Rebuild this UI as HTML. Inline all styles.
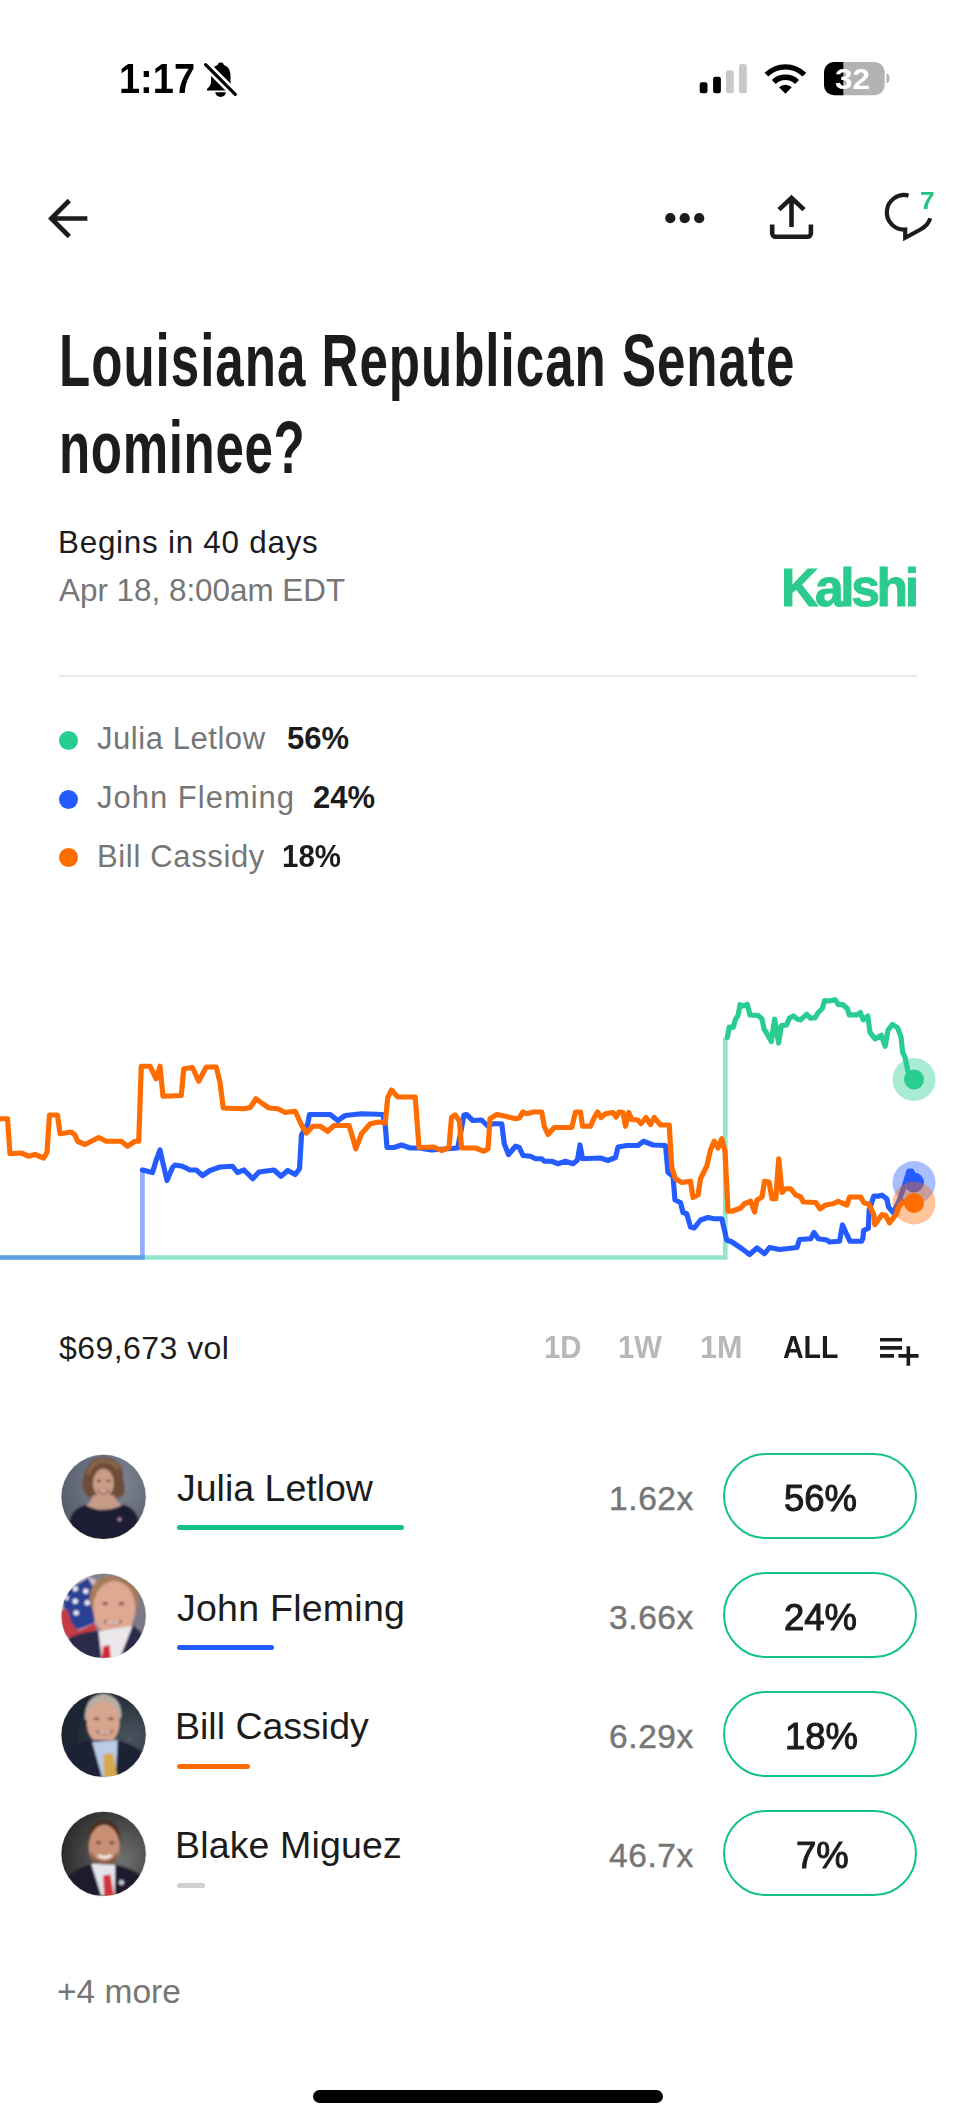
<!DOCTYPE html>
<html><head><meta charset="utf-8">
<style>
html,body{margin:0;padding:0;background:#fff;width:976px;height:2122px;overflow:hidden;position:relative;font-family:"Liberation Sans",sans-serif;}
.t{position:absolute;white-space:nowrap;line-height:1;transform-origin:0 0;}
.b{font-weight:700;}
.g{color:#767676;}
.d{color:#1c1c1c;}
svg{position:absolute;left:0;top:0;}
</style></head><body>

<!-- status bar -->
<!-- STATUS -->
<svg width="976" height="260" viewBox="0 0 976 260">
<g fill="#000">
<path d="M220.5 62.5c-1.6 0-2.7 1.1-2.8 2.4C212.6 66.6 211 71 211 76v6c0 3-2 5-4 7v1.6h27.5V89c-2-2-4-4-4-7v-6c0-5-1.6-9.4-6.7-11.1-.1-1.3-1.2-2.4-2.8-2.4z"/>
<path d="M215.3 92.3h10.6a5.3 4.6 0 0 1-10.6 0z"/>
</g>
<path d="M204.5 63.5L236.5 95.5" stroke="#fff" stroke-width="8.5"/>
<path d="M205.6 64.6L235.3 94.3" stroke="#000" stroke-width="3.2" stroke-linecap="round"/>
<rect x="699.7" y="82.3" width="7.8" height="10.9" rx="2.2" fill="#000"/>
<rect x="713.1" y="76.8" width="7.8" height="16.4" rx="2.2" fill="#000"/>
<rect x="726" y="70.3" width="7.8" height="22.9" rx="2.2" fill="#c9c9c9"/>
<rect x="739" y="64" width="7.8" height="29.2" rx="2.2" fill="#c9c9c9"/>
<path d="M764.54 72.84A29.5 29.5 0 0 1 806.26 72.84L802.51 76.59A24.2 24.2 0 0 0 768.29 76.59ZM771.75 80.05A19.3 19.3 0 0 1 799.05 80.05L795.02 84.08A13.6 13.6 0 0 0 775.78 84.08ZM785.40 93.70L779.04 87.34A9.0 9.0 0 0 1 791.76 87.34Z" fill="#000"/>
<path d="M834 62h40.7a10 10 0 0 1 10 10v13.3a10 10 0 0 1-10 10H834a10 10 0 0 1-10-10V72a10 10 0 0 1 10-10z" fill="#b3b3b3"/>
<path d="M834 62h9.3v33.3H834a10 10 0 0 1-10-10V72a10 10 0 0 1 10-10z" fill="#000"/>
<path d="M886.5 73.4a3.5 5 0 0 1 0 9.9z" fill="#b3b3b3"/>
<!-- nav -->
<g fill="none" stroke="#1c1c1c" stroke-width="4.6">
<path d="M87.4 218.5H50.5M69.3 200.5L51.3 218.5L69.3 236.5"/>
<path d="M791.5 227V198.5M779 209.7L791.5 197.9L804 209.7"/>
<path d="M772.2 224.6V233.3a3.5 3.5 0 0 0 3.5 3.5H807.4a3.5 3.5 0 0 0 3.5-3.5V224.6"/>
</g>
<g fill="#1c1c1c"><circle cx="670.3" cy="218.2" r="5.1"/><circle cx="684.7" cy="218.2" r="5.1"/><circle cx="699.2" cy="218.2" r="5.1"/></g>
<path d="M908.5 195.6A17.3 17.3 0 1 0 905.2 229.6V237.8L920.5 229.5Q928.5 225 930.2 218.3" fill="none" stroke="#1c1c1c" stroke-width="4.2" stroke-miterlimit="8"/>
</svg>
<div class="t b" style="left:834.5px;top:64.5px;font-size:29px;color:#fff;transform:scaleX(1.08)">32</div>
<div class="t b" style="left:920px;top:189.5px;font-size:23.5px;color:#22c283;transform:scaleX(1.12)">7</div>
<!-- /STATUS -->
<div class="t b" style="left:119px;top:58px;font-size:42px;color:#000;transform:scaleX(0.904)">1:17</div>

<!-- title -->
<div class="t b d" style="left:59px;top:324px;font-size:74px;letter-spacing:1.45px;transform:scaleX(0.69)">Louisiana Republican Senate</div>
<div class="t b d" style="left:59px;top:411px;font-size:74px;letter-spacing:0.95px;transform:scaleX(0.69)">nominee?</div>

<div class="t d" style="left:58px;top:527px;font-size:31.4px;letter-spacing:0.75px">Begins in 40 days</div>
<div class="t g" style="left:59px;top:575px;font-size:31.4px">Apr 18, 8:00am EDT</div>
<div class="t b" style="left:781px;top:561px;font-size:53px;color:#2bcb8f;letter-spacing:-3.5px;-webkit-text-stroke:1px #2bcb8f;transform:scaleX(0.975)">Kalshi</div>

<div style="position:absolute;left:59px;top:675px;width:858px;height:2px;background:#e9e9e9"></div>

<!-- legend -->
<div style="position:absolute;left:58.5px;top:730.5px;width:19px;height:19px;border-radius:50%;background:#29cd92"></div>
<div style="position:absolute;left:58.5px;top:789.5px;width:19px;height:19px;border-radius:50%;background:#255cff"></div>
<div style="position:absolute;left:58.5px;top:847.5px;width:19px;height:19px;border-radius:50%;background:#ff6c00"></div>
<div class="t g" style="left:97px;top:723px;font-size:31px;letter-spacing:0.55px">Julia Letlow</div>
<div class="t b d" style="left:287px;top:723px;font-size:31px">56%</div>
<div class="t g" style="left:97px;top:782px;font-size:31px;letter-spacing:1px">John Fleming</div>
<div class="t b d" style="left:313px;top:782px;font-size:31px">24%</div>
<div class="t g" style="left:97px;top:840.5px;font-size:31px;letter-spacing:0.65px">Bill Cassidy</div>
<div class="t b d" style="left:282px;top:840.5px;font-size:31px;transform:scaleX(0.95)">18%</div>

<!-- CHART -->
<svg style="left:0;top:0" width="976" height="1300" viewBox="0 0 976 1300">
<g fill="none" stroke-width="5.2">
<path d="M0 1257.5H725.3V1037.6" stroke="#29cd92" stroke-opacity="0.5" stroke-width="4.7"/>
<path d="M0 1257.5H142.4V1170" stroke="#255cff" stroke-opacity="0.5" stroke-width="4.7"/>
<g stroke-linejoin="round" stroke-linecap="round">
<path d="M727.3 1037.6 L729.3 1027 L733.3 1027.4 L735.3 1019.6 L738 1015.6 L740 1004.7 L743.3 1006 L747.3 1004.3 L750 1015 L758 1015.4 L762 1019 L764 1029 L766.6 1033 L771.3 1041.6 L774.6 1019 L778.6 1043 L781.3 1025.6 L786.6 1025 L789.3 1018.3 L793.3 1015.9 L797.2 1019 L800.6 1019.9 L806.6 1014.3 L810.6 1018.3 L815.2 1017.6 L817.9 1013 L822.5 1008.3 L824.5 1000.7 L829.2 1001 L835.1 999.7 L838.5 1004.7 L843 1004.7 L847.5 1008.7 L849.2 1014.9 L857 1014.9 L860.4 1012.6 L863.2 1019.9 L867.8 1016 L870 1032.3 L875.1 1038.9 L881.3 1035.2 L885.2 1046.4 L888 1030.1 L892.5 1024.4 L897.6 1027.8 L901 1036.8 L902.7 1052.6 L905 1057.1 L907.8 1070.7 L914 1079.4" stroke="#29cd92"/>
<path d="M142.4 1170 L152.5 1172.5 L156.25 1160 L160 1150 L162.5 1161.25 L167 1180.5 L172.5 1167.5 L175 1165 L182.5 1166.25 L190 1170 L196.25 1170 L202.5 1175.5 L210 1170.5 L220 1167 L232.5 1166.25 L237.5 1172.5 L244 1170 L252.75 1178.75 L259 1172 L274 1170 L281 1176.25 L287.75 1170.5 L295.25 1174.5 L299.5 1168.75 L301.5 1135 L307.75 1123.75 L309.5 1114.5 L330.25 1114.5 L337.75 1120.5 L345.25 1115.5 L361.5 1113.75 L382.75 1114.5 L385.25 1125 L387 1147.5 L394 1147.5 L401.5 1145 L410.25 1148 L419 1148 L431.5 1150 L457.75 1148 L464 1115 L466.5 1114.5 L472.75 1120.5 L481.5 1120 L488 1126.25 L493 1123.75 L501.75 1123.75 L504.25 1143.75 L508.5 1154.5 L515.5 1146.25 L519.25 1147.5 L523 1155.5 L530.5 1156.25 L535.5 1158.75 L541.75 1158.75 L544.25 1161.25 L551.75 1161.25 L558 1163.75 L565.5 1161.25 L573 1163.75 L577.5 1160 L580 1145 L582.5 1158.75 L600.5 1158 L608 1160.5 L615.5 1157.5 L618 1147 L626.75 1145.5 L638 1145.5 L643.5 1141.25 L653 1145 L665.5 1145.5 L668 1172.5 L673 1176.25 L675 1200 L680.5 1202.5 L683 1212.5 L686.75 1213.75 L690.5 1227 L694.25 1228 L700.5 1220 L708 1217.5 L714.25 1218.75 L721.75 1218.75 L726.75 1240 L732 1242 L742 1248.75 L749.5 1254.5 L757 1248 L764.5 1253.75 L769.5 1247.5 L779.5 1249.5 L797 1247.5 L799.5 1239.5 L810.75 1238.75 L814 1232.5 L818.25 1238.75 L827 1240 L829.5 1242 L839.5 1241.25 L842.5 1225 L847 1235 L850 1241.25 L861.5 1241.25 L862.8 1238.6 L863.7 1230.3 L868.3 1228.4 L869.2 1210 L873.8 1196.1 L878.4 1196.1 L882.1 1195.2 L886.8 1198.9 L888.6 1207.2 L893.2 1212.7 L898.7 1201.7 L903.4 1188.7 L906.1 1180.4 L908.9 1171.2 L911.7 1171.2 L914 1176.8 L914 1182.5" stroke="#255cff"/>
<path d="M0 1118.75 L7.5 1118.75 L10 1153.75 L21.25 1153 L28.75 1156.25 L35 1154.5 L43.75 1158 L47 1152.5 L49.5 1115 L57.5 1115 L60 1133.75 L71.25 1132 L75 1135 L77.5 1141.25 L85 1144.5 L98.75 1137.5 L106.25 1141.25 L121.25 1141.25 L127.5 1146.25 L135 1141.25 L138.75 1141.25 L141.25 1066.25 L150 1066.25 L156.25 1078.75 L160 1066.25 L163 1096.25 L181.25 1095.5 L183.75 1068.75 L192.5 1067.5 L198.75 1081.25 L206.25 1067 L216.25 1067 L220 1082.5 L223.25 1108 L244 1108.75 L250.25 1107.5 L256 1098.75 L262.75 1103.75 L269 1108 L277.75 1108.75 L285.25 1112.5 L295.25 1111.25 L301.5 1125 L306.5 1133 L312.75 1126.25 L320.25 1126.25 L327.75 1131.25 L334 1125.5 L349 1125.5 L352.75 1137.5 L355.75 1148.75 L361.5 1133.75 L370.25 1123.75 L379 1122 L385.25 1123 L387.75 1097.5 L391.5 1090 L397.75 1097 L415.25 1097 L419 1147.5 L434 1147 L441.5 1150.5 L449 1147.5 L451.5 1117.5 L455.25 1115 L459.5 1121.25 L461.5 1148 L475.25 1148 L484 1151.25 L488 1148.75 L490 1118.75 L496.75 1114.5 L505.5 1116.25 L515.5 1118.75 L519.25 1118 L523 1112 L526.75 1113.75 L533 1112 L541.75 1112 L544.25 1126.25 L548 1134.5 L554.25 1127.5 L571.75 1127.5 L575.5 1112 L580.5 1112 L582.5 1126.25 L590.5 1126.25 L594.25 1117.5 L597.5 1112 L601 1117.5 L605.5 1113.75 L613 1112.5 L616 1117 L619.25 1112 L623 1112.5 L625.5 1126.25 L628.75 1112.5 L631.75 1119.5 L638 1120 L641 1123.75 L646 1117.5 L650.5 1124.5 L654.25 1117.5 L660.5 1125 L669.25 1125 L671.75 1167.5 L675.5 1178.75 L681.75 1182.5 L690.5 1181.25 L693 1197.5 L698 1195 L700.5 1178.75 L706.75 1166.25 L710.5 1150 L714.25 1141.25 L718 1148 L721.75 1138.75 L725 1151.25 L728 1211.25 L732 1211.25 L740.75 1208 L744.5 1203.75 L750.75 1201.25 L754.5 1212 L757 1200 L762 1197 L764.5 1181.25 L769 1182 L772 1198.75 L775.75 1198.75 L778.75 1158.75 L782 1192.5 L785.75 1188.75 L790.75 1188.75 L795.75 1195 L800.75 1197 L803.25 1202 L815.75 1202.5 L820 1208.75 L825.75 1205 L833.25 1203.75 L838.25 1201.25 L842 1203 L847 1205 L849.5 1197 L860.75 1197 L863.7 1202.6 L869.2 1204.4 L873.8 1214.6 L874.8 1224.7 L882.1 1214.6 L885.8 1215.5 L889.5 1222.9 L896 1214.6 L899.7 1205.3 L903.4 1201.7 L914 1202.5" stroke="#ff6c00"/>
</g></g>
<circle cx="914" cy="1079.5" r="21.5" fill="#29cd92" fill-opacity="0.4"/>
<circle cx="914" cy="1079.5" r="10" fill="#29cd92"/>
<circle cx="914" cy="1182.5" r="21.5" fill="#255cff" fill-opacity="0.4"/>
<circle cx="914" cy="1182.5" r="10" fill="#255cff"/>
<circle cx="914" cy="1203" r="21.5" fill="#ff6c00" fill-opacity="0.4"/>
<circle cx="914" cy="1203" r="10" fill="#ff6c00"/>
</svg>
<!-- /CHART -->

<!-- volume row -->
<div class="t d" style="left:59px;top:1332px;font-size:32px;letter-spacing:0.45px">$69,673 vol</div>
<div class="t b" style="left:544px;top:1332px;font-size:31.5px;color:#b8b8b8;transform:scaleX(0.93)">1D</div>
<div class="t b" style="left:618px;top:1332px;font-size:31.5px;color:#b8b8b8;transform:scaleX(0.93)">1W</div>
<div class="t b" style="left:700px;top:1332px;font-size:31.5px;color:#b8b8b8;transform:scaleX(0.97)">1M</div>
<div class="t b d" style="left:783px;top:1332px;font-size:31.5px;transform:scaleX(0.905)">ALL</div>
<svg style="left:878px;top:1335px" width="44" height="34" viewBox="0 0 44 34">
<path d="M2 4.8H24.1M2 12.9H24.1M2 20.9H16M20.4 20.9H40.6M30.35 11.2V30.7" stroke="#1c1c1c" stroke-width="3.6" fill="none"/>
</svg>

<!-- rows -->
<!-- AVATARS -->
<svg style="left:56px;top:1450px" width="94" height="94" viewBox="0 0 976 976">
<defs><clipPath id="c0"><circle cx="494" cy="487" r="438"/></clipPath><filter id="f0" x="-10%" y="-10%" width="120%" height="120%"><feGaussianBlur stdDeviation="9"/></filter><radialGradient id="g0" cx="0.62" cy="0.35" r="0.7"><stop offset="0" stop-color="#828896"/><stop offset="1" stop-color="#4f5666"/></radialGradient></defs>
<circle cx="494" cy="487" r="446" fill="#ececec"/>
<g clip-path="url(#c0)"><g filter="url(#f0)">
<rect x="0" y="0" width="976" height="976" fill="url(#g0)"/>
<path d="M290 430 Q250 330 300 230 Q330 120 440 80 Q560 60 640 130 Q710 200 700 320 Q730 400 700 470 Q660 510 610 490 L390 490 Q320 500 290 430Z" fill="#6e4d37"/>
<path d="M330 250 Q360 140 470 110 Q600 110 650 200" stroke="#8a6448" stroke-width="40" fill="none"/>
<ellipse cx="492" cy="345" rx="108" ry="150" fill="#c99d87"/>
<path d="M385 470 L600 470 Q620 540 700 580 Q490 670 300 585 Q370 540 385 470Z" fill="#c69b86"/>
<path d="M120 980 L150 700 Q190 600 305 570 Q490 675 700 565 Q815 600 850 700 L890 980Z" fill="#1b1d30"/>
<g fill="#5a3a30"><ellipse cx="445" cy="320" rx="22" ry="12"/><ellipse cx="545" cy="320" rx="22" ry="12"/></g>
<path d="M435 420 Q492 470 550 420" stroke="#9a4c48" stroke-width="26" fill="none"/>
<path d="M455 428 Q492 450 530 428" stroke="#efe4e0" stroke-width="12" fill="none"/>
<circle cx="660" cy="720" r="22" fill="#a08090"/>
</g></g></svg>
<svg style="left:56px;top:1569px" width="94" height="94" viewBox="0 0 976 976">
<defs><clipPath id="c1"><circle cx="494" cy="487" r="438"/></clipPath><filter id="f1" x="-10%" y="-10%" width="120%" height="120%"><feGaussianBlur stdDeviation="9"/></filter><linearGradient id="g1" x1="0" y1="0" x2="1" y2="0"><stop offset="0" stop-color="#8f8a95"/><stop offset="1" stop-color="#7c7784"/></linearGradient></defs>
<circle cx="494" cy="487" r="446" fill="#ececec"/>
<g clip-path="url(#c1)"><g filter="url(#f1)">
<rect x="0" y="0" width="976" height="976" fill="url(#g1)"/>
<path d="M40 380 L300 60 L420 120 L420 620 L120 760 L40 700Z" fill="#cfc2c8"/>
<path d="M70 260 L330 90 L420 240 L400 560 L200 640 L90 560Z" fill="#2c3f93"/>
<path d="M40 430 L120 420 L160 560 L230 640 L320 600 L410 560 L430 680 L180 740 L60 680Z" fill="#c53a45"/>
<g fill="#e8e8f0"><circle cx="200" cy="205" r="28"/><circle cx="310" cy="230" r="28"/><circle cx="200" cy="335" r="28"/><circle cx="325" cy="350" r="28"/><circle cx="210" cy="455" r="28"/><circle cx="110" cy="300" r="24"/></g>
<path d="M350 330 Q340 120 540 70 Q760 60 850 250 Q870 380 820 430 L380 430Z" fill="#a67b58"/>
<ellipse cx="605" cy="410" rx="220" ry="285" fill="#dea893"/>
<path d="M100 980 L130 720 Q280 640 450 640 L780 600 Q880 640 920 720 L940 980Z" fill="#2b2c48"/>
<path d="M440 645 L795 590 L650 980 L480 980Z" fill="#ebe7ea"/>
<path d="M800 585 Q880 640 920 720 L700 980 L640 980Z" fill="#2b2c48"/>
<path d="M490 805 L555 790 L575 980 L470 980Z" fill="#d4283a"/>
<g fill="#6a4a40"><ellipse cx="510" cy="360" rx="30" ry="14"/><ellipse cx="680" cy="360" rx="30" ry="14"/></g>
<path d="M500 540 Q590 590 680 540" stroke="#a86060" stroke-width="28" fill="none"/>
<path d="M525 550 Q590 575 655 550" stroke="#f4eeee" stroke-width="14" fill="none"/>
</g></g></svg>
<svg style="left:56px;top:1688px" width="94" height="94" viewBox="0 0 976 976">
<defs><clipPath id="c2"><circle cx="494" cy="487" r="438"/></clipPath><filter id="f2" x="-10%" y="-10%" width="120%" height="120%"><feGaussianBlur stdDeviation="9"/></filter><radialGradient id="g2" cx="0.78" cy="0.55" r="0.6"><stop offset="0" stop-color="#4a5560"/><stop offset="1" stop-color="#1c2530"/></radialGradient></defs>
<circle cx="494" cy="487" r="446" fill="#ececec"/>
<g clip-path="url(#c2)"><g filter="url(#f2)">
<rect x="0" y="0" width="976" height="976" fill="url(#g2)"/>
<path d="M300 330 Q290 90 490 60 Q680 80 680 300 L650 330Z" fill="#b8aea6"/>
<ellipse cx="490" cy="360" rx="170" ry="225" fill="#d7a58e"/>
<path d="M90 980 L120 640 Q250 560 380 540 L640 540 Q800 590 880 650 L900 980Z" fill="#1c2135"/>
<path d="M375 560 L640 540 L620 930 L480 930Z" fill="#bccbe6"/>
<path d="M490 690 L590 675 L640 930 L500 930Z" fill="#d5a84f"/>
<g fill="#6a4a40"><ellipse cx="420" cy="320" rx="30" ry="13"/><ellipse cx="570" cy="320" rx="30" ry="13"/></g>
<path d="M420 445 Q500 500 590 445" stroke="#9a5a50" stroke-width="26" fill="none"/>
<path d="M445 455 Q500 480 565 455" stroke="#f0eaea" stroke-width="12" fill="none"/>
</g></g></svg>
<svg style="left:56px;top:1807px" width="94" height="94" viewBox="0 0 976 976">
<defs><clipPath id="c3"><circle cx="494" cy="487" r="438"/></clipPath><filter id="f3" x="-10%" y="-10%" width="120%" height="120%"><feGaussianBlur stdDeviation="9"/></filter><radialGradient id="g3" cx="0.7" cy="0.55" r="0.65"><stop offset="0" stop-color="#707070"/><stop offset="1" stop-color="#2b2b2b"/></radialGradient></defs>
<circle cx="494" cy="487" r="446" fill="#ececec"/>
<g clip-path="url(#c3)"><g filter="url(#f3)">
<rect x="0" y="0" width="976" height="976" fill="url(#g3)"/>
<path d="M330 350 Q320 140 500 130 Q670 140 670 350 L640 360 L360 360Z" fill="#4b3326"/>
<ellipse cx="500" cy="410" rx="160" ry="225" fill="#c98f74"/>
<path d="M360 460 Q370 640 500 650 Q640 640 640 460 Q600 560 500 560 Q400 560 360 460Z" fill="#7e5a45"/>
<g fill="#4a3025"><ellipse cx="440" cy="370" rx="28" ry="12"/><ellipse cx="580" cy="370" rx="28" ry="12"/></g>
<path d="M440 500 Q505 550 575 500" stroke="#f2eeee" stroke-width="30" fill="none"/>
<path d="M90 980 L140 700 Q270 620 370 590 L620 600 Q790 640 870 700 L900 980Z" fill="#1b1e2e"/>
<path d="M365 590 L615 600 L610 920 L470 920Z" fill="#e4e4ec"/>
<path d="M490 710 L565 700 L605 930 L500 930Z" fill="#d4303a"/>
<circle cx="680" cy="785" r="26" fill="#c8ccd4"/>
</g></g></svg>
<!-- /AVATARS -->
<div class="t d" style="left:177px;top:1470px;font-size:37.5px">Julia Letlow</div>
<div class="t d" style="left:177px;top:1590px;font-size:37.5px;letter-spacing:0.25px">John Fleming</div>
<div class="t d" style="left:175px;top:1708px;font-size:37.5px">Bill Cassidy</div>
<div class="t d" style="left:175px;top:1827px;font-size:37.5px;letter-spacing:0.15px">Blake Miguez</div>
<div style="position:absolute;left:177px;top:1525px;width:227px;height:5px;border-radius:3px;background:#13c386"></div>
<div style="position:absolute;left:177px;top:1644.5px;width:97px;height:5px;border-radius:3px;background:#255cff"></div>
<div style="position:absolute;left:177px;top:1763.5px;width:73px;height:5px;border-radius:3px;background:#ff6c00"></div>
<div style="position:absolute;left:177px;top:1882.5px;width:28px;height:5px;border-radius:3px;background:#d0d0d0"></div>

<div class="t g" style="left:609px;top:1482px;font-size:33.5px;letter-spacing:0.6px;-webkit-text-stroke:0.45px #767676">1.62x</div>
<div class="t g" style="left:609px;top:1601px;font-size:33.5px;letter-spacing:0.6px;-webkit-text-stroke:0.45px #767676">3.66x</div>
<div class="t g" style="left:609px;top:1720px;font-size:33.5px;letter-spacing:0.6px;-webkit-text-stroke:0.45px #767676">6.29x</div>
<div class="t g" style="left:609px;top:1839px;font-size:33.5px;letter-spacing:0.6px;-webkit-text-stroke:0.45px #767676">46.7x</div>

<div style="position:absolute;left:723.3px;top:1453.1px;width:189.3px;height:82.2px;border:2.6px solid #13c386;border-radius:44px"></div>
<div style="position:absolute;left:723.3px;top:1572.1px;width:189.3px;height:82.2px;border:2.6px solid #13c386;border-radius:44px"></div>
<div style="position:absolute;left:723.3px;top:1691.1px;width:189.3px;height:82.2px;border:2.6px solid #13c386;border-radius:44px"></div>
<div style="position:absolute;left:723.3px;top:1810.1px;width:189.3px;height:82.2px;border:2.6px solid #13c386;border-radius:44px"></div>
<div class="t d" style="left:784px;top:1480px;font-size:37.8px;-webkit-text-stroke:1.1px #1c1c1c;transform:scaleX(0.965)">56%</div>
<div class="t d" style="left:784px;top:1599px;font-size:37.8px;-webkit-text-stroke:1.1px #1c1c1c;transform:scaleX(0.965)">24%</div>
<div class="t d" style="left:785px;top:1718px;font-size:37.8px;-webkit-text-stroke:1.1px #1c1c1c;transform:scaleX(0.965)">18%</div>
<div class="t d" style="left:796px;top:1837px;font-size:37.8px;-webkit-text-stroke:1.1px #1c1c1c;transform:scaleX(0.965)">7%</div>

<div class="t g" style="left:57px;top:1975px;font-size:33.5px">+4 more</div>

<div style="position:absolute;left:313px;top:2090px;width:350px;height:13px;border-radius:7px;background:#000"></div>

</body></html>
